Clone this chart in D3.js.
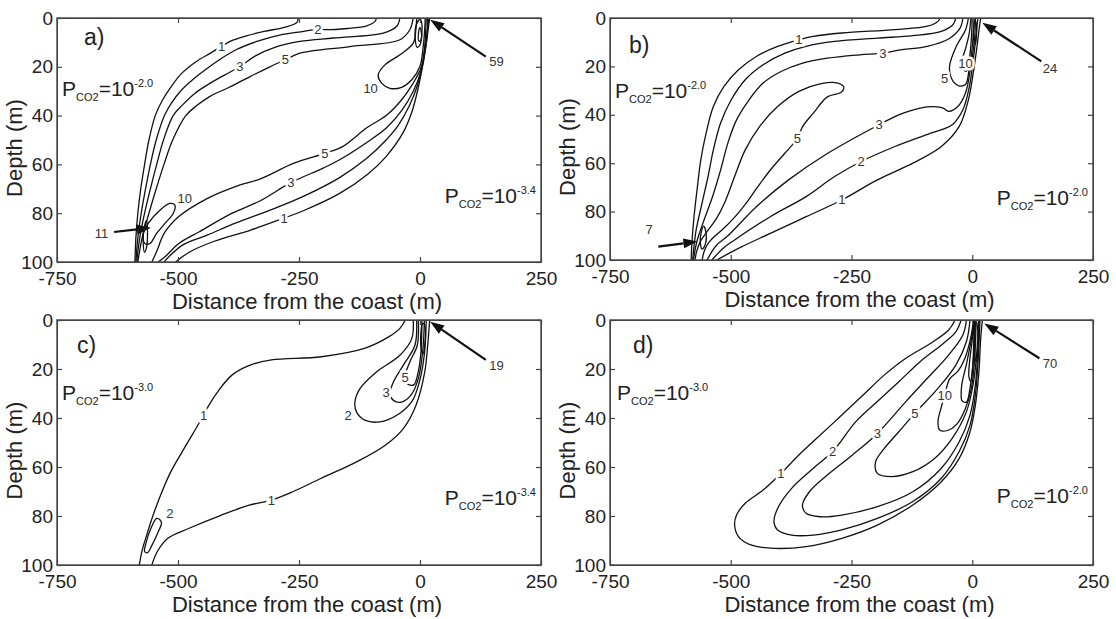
<!DOCTYPE html>
<html lang="en">
<head>
<meta charset="utf-8">
<title>PCO2 contours</title>
<script src="https://cdn.jsdelivr.net/npm/d3@7"></script>
<style>
  body { margin: 0; background: #fff; }
  svg { display: block; font-family: "Liberation Sans", Arial, sans-serif; }
</style>
</head>
<body>
<div id="chart"></div>
<script>
// axis ticks
const xTicks = [-750, -500, -250, 0, 250];
const yTicks = [0, 20, 40, 60, 80, 100];
const panelTags = ["a)", "b)", "c)", "d)"];
const pco2Left = ["-2.0", "-2.0", "-3.0", "-3.0"];
const pco2Right = ["-3.4", "-2.0", "-3.4", "-2.0"];

// contour lines, [distance (m), depth (m)]
// panel a
const a1Up = [[-252,0],[-254,1.8],[-278,3.7],[-322,5.5],[-359,7.3],[-388,9.2],[-410,11.6],[-433,14.4],[-462,17.8],[-492,22.6],[-514,28.1],[-532,33.6],[-547,40],[-560,50],[-569,60],[-577,70],[-583,80],[-587,90],[-589,100]];
const a2Up = [[-90,0],[-93,1.4],[-110,3.2],[-150,4.3],[-196,4.8],[-211,4.6],[-240,5.5],[-290,7],[-337,9.6],[-380,13],[-410,16.5],[-435,20],[-468,25],[-495,30],[-514,35],[-528,40],[-545,50],[-557,60],[-567,70],[-576,80],[-583,90],[-587,100]];
const a3Up = [[-41.5,0],[-48,3.4],[-76,6.2],[-179,8.2],[-248,9.6],[-300,12],[-340,15.5],[-372,19.9],[-405,23.5],[-440,27.5],[-466,31],[-490,35.5],[-510,40],[-530,50],[-544,60],[-557,70],[-569,80],[-579,90],[-585,100]];
const a5Up = [[-14,0],[-21,4.8],[-41.5,8.9],[-145,11.7],[-248,14.4],[-278,17.1],[-310,20],[-351,24],[-395,28.5],[-433,32],[-462,36],[-484,40],[-511,50],[-529,60],[-545,70],[-560,80],[-574,90],[-583,100]];
const a5Lo = [[-554,100],[-543,95.2],[-529,88.4],[-499,81.5],[-440,74],[-380,69],[-331,66],[-260,59.5],[-196.5,55.5],[-160,52.7],[-110,45],[-70,40],[-40,34],[-15,27],[3,20],[10,11],[12,4],[13,0]];
const a3Lo = [[-541,100],[-525,97.5],[-499,92.5],[-455,87.5],[-388,80],[-331,75],[-267,67.5],[-200,61.5],[-167,58.2],[-110,51],[-69,45],[-38,38],[-14,30],[2,22],[11,13],[15,6],[16,0]];
const a2Lo = [[-529,100],[-512,96.5],[-490,93],[-440,89],[-380,84],[-300,78],[-240,73],[-167,65.5],[-110,57.5],[-70,50],[-45,44],[-22,36],[-6,28],[5,19],[12,10],[18,0]];
const a1Lo = [[-505,100],[-477,96],[-425,91.5],[-351,87],[-281,82],[-241,79],[-167,72],[-108,64],[-71,57],[-35,47],[-16,38],[-3,28],[7,18],[14,9],[20,0]];
const a10Coast = [[-7,0],[-8.5,4.8],[-14,10.3],[-41.5,15.1],[-72.5,19.2],[-86.4,23.3],[-79.4,26.7],[-62.2,28.8],[-38,28.4],[-17.4,25.4],[-0.2,19.9],[6.6,11.7],[10.1,3.4],[10.7,0]];
const a10Loop = [[-568.4,92.4],[-571.9,89],[-561.6,84.2],[-537.4,78.8],[-516.7,76],[-506.4,76.7],[-509.9,80.1],[-527,84.2],[-544.2,88.3],[-558,92.4]];
const a11Loop = [[-565,83],[-570,86],[-572,91],[-569,96],[-565,94],[-563,88]];
const aPeak1 = [[0,0.5],[-8,3],[-10,8],[-6,12],[0,11],[4,6],[3,1.5]];
const aPeak2 = [[0,4],[-3,6],[-2,9.5],[2,9],[2,5]];
const aLabels = [[-410,11.6,"1"],[-211,4.6,"2"],[-372,19.9,"3"],[-278,17.1,"5"],[-102,28.8,"10"],[-196.5,55.5,"5"],[-267,67.5,"3"],[-281,82,"1"],[-486,74,"10"]];
const aArrows = [{text:"59", at:[158,17.8], from:[136,15.8], to:[21,0.7]}, {text:"11", at:[-658,88.4], from:[-632,87.7], to:[-556,86]}];

// panel b
const b1Up = [[-67,0],[-71,1.4],[-93,3.4],[-160,4.8],[-270,6.2],[-329,7.6],[-359,9],[-403,11.7],[-447,15.9],[-484,21.4],[-514,28.3],[-536,36.6],[-551,47.6],[-562,58.6],[-569,69.7],[-576,82],[-580,91.7],[-582,100]];
const b2Up = [[-34,0],[-40,2.8],[-64,5.5],[-123,7.3],[-196,8.3],[-285,9.7],[-344,11.7],[-388,14.5],[-433,19.3],[-470,25.5],[-499,33.8],[-521,43.4],[-536,54.5],[-547,65.5],[-560,77],[-572,88],[-579,100]];
const b3Up = [[-19.4,0],[-25,4.1],[-49,8.7],[-93,11.7],[-145,13.1],[-185,14.5],[-233,15.2],[-300,16.6],[-351,18.6],[-396,22.1],[-433,26.9],[-462,33.8],[-488,42.1],[-506,51.7],[-521,62.8],[-538,74],[-558,85],[-571,93],[-577,100]];
const b5Tongue = [[-574,100],[-570,96],[-562,92],[-548,88],[-530,83],[-512,76],[-492,65.5],[-470,54.5],[-440,44.8],[-403,36.6],[-359,30.3],[-315,27.2],[-278,26.9],[-266,28.6],[-272,30.8],[-300,32.6],[-329,39.3],[-351,44.8],[-362,49.7],[-388,55.9],[-418,62.8],[-445,70],[-470,77],[-495,83],[-515,87],[-535,90.5],[-548,93.5],[-556,97],[-559,100]];
const b3Lo = [[-549,100],[-530,94],[-506,90],[-447,78],[-381,67],[-300,56],[-193,44.1],[-152,40],[-108,37.2],[-78,36.6],[-60,37.2],[-49,38.6],[-30,36.6],[-14,31],[-3,20],[5,8],[6.5,0]];
const b2Lo = [[-539,100],[-515,95],[-492,91.7],[-418,82.1],[-344,73.8],[-285,65.5],[-230,59.3],[-160,53.1],[-86,47.6],[-41.5,44.1],[-19.4,37.9],[-6,28.3],[3,15.9],[11.6,0]];
const b1Lo = [[-529,100],[-477,94.5],[-418,89],[-344,82.1],[-270,75.2],[-196.5,66.9],[-123,60],[-64,53.1],[-27,44.8],[-8,33.8],[2,22.8],[9,13.1],[15,3.4],[17.5,0]];
const b5Coast = [[-8,0],[-14,5],[-33,11.7],[-47,20],[-43,25],[-28,28],[-14,27.5],[-7,22],[0,12],[4,0]];
const b10Coast = [[-3,0],[-6,6],[-13,12],[-20,17],[-19,21],[-12,22],[-6,17],[-2,9],[0,0]];
const b7Loop = [[-556,86],[-561,88.5],[-563,93],[-559,95.5],[-552,93],[-551,89]];
const bPeak = [[6,1],[3,4],[3,9],[6,11],[9,6],[8,2]];
const bLabels = [[-359,9,"1"],[-185,14.5,"3"],[-362,49.7,"5"],[-193,44.1,"3"],[-230,59.3,"2"],[-270,75.2,"1"],[-57,24.8,"5"],[-14,18.6,"10"]];
const bArrows = [{text:"24", at:[161,20.7], from:[143,17.9], to:[21,2]}, {text:"7", at:[-669,87.6], from:[-650,94.5], to:[-569,92.4]}];

// panel c
const c1Up = [[-30,0],[-41.5,3.4],[-64,6.8],[-115,11.6],[-204,15],[-307,16.3],[-351,18.4],[-388,22.4],[-418,29.3],[-440,36.1],[-447,38.8],[-468,46],[-492,54],[-515,62],[-535,71],[-552,80],[-565,88],[-574,94],[-580,100]];
const c1Lo = [[-554,100],[-543,94.6],[-521,89.1],[-477,85],[-410,79.6],[-351,75.5],[-307,73.5],[-263,70.1],[-204,64.6],[-130,57.8],[-71,51],[-34,44.2],[-8,34.7],[10,21],[16,10],[20,0]];
const c2Loop = [[-537,81.6],[-544,81],[-557,85.5],[-566,91],[-569,94.5],[-563,95],[-554,92],[-541,86.5],[-534,83]];
const c2Coast = [[-14,0],[-17,7.6],[-41.5,14.4],[-90,21.2],[-124,28],[-134.5,33.5],[-131,37.6],[-114,40.9],[-83,41.6],[-48,38.9],[-16,33],[-1,25],[9,14],[13,0]];
const c3Coast = [[-7,0],[-10.5,10.3],[-34.7,18.5],[-55,25.3],[-62,30.1],[-55,32.8],[-38,33.5],[-18,30.5],[-3,23.5],[6,12],[9,0]];
const c5Coast = [[-3.5,0],[-5.6,10.3],[-21,17.1],[-31,23.3],[-26.4,26],[-13,26.5],[-4,21.5],[2,13],[4,0]];
const cPeak = [[5,1.5],[2,5],[2,11],[6,14],[10,10],[11,4],[8,1.5]];
const cLabels = [[-447,38.8,"1"],[-307,73.5,"1"],[-517,79,"2"],[-148.5,38.8,"2"],[-70,29.6,"3"],[-31,23.5,"5"]];
const cArrows = [{text:"19", at:[158,18.4], from:[136,16.3], to:[21,0.7]}];

// panel d
const d1Loop = [[-35.6,0],[-48.9,4.1],[-85.8,9.5],[-137.5,15.6],[-181.7,22.4],[-226,30.6],[-270,38.8],[-322,48.3],[-359,55.1],[-396,62.6],[-433,69.4],[-470,74.8],[-488,79.6],[-492,83.7],[-484,88.4],[-458.5,91.8],[-410.5,93.2],[-344,92.5],[-270,89.1],[-196.5,83.7],[-123,75.5],[-64,66],[-27,56.5],[-4.6,45.6],[6.5,34.7],[13.8,21.1],[17.5,7.5],[21,0]];
const d2Loop = [[-23,0],[-34,4.8],[-64,10.2],[-108,17],[-152,25.2],[-196.5,33.3],[-241,41.5],[-289,53.7],[-329,60.5],[-374,68.7],[-403,76.9],[-410.5,82.3],[-403,85.7],[-374,87.8],[-329,87.8],[-270,85.7],[-196.5,81],[-123,74.1],[-64,64.6],[-27,53.7],[-4.6,42.9],[6.5,30.6],[12.4,15.6],[16,0]];
const d3Loop = [[-12,0],[-19.4,6.1],[-49,14.3],[-93,23.8],[-137.5,33.3],[-196.5,46.3],[-248,55.1],[-300,63.3],[-337,70.1],[-351.5,75.5],[-344,78.9],[-315,80.3],[-270,79.6],[-196.5,76.2],[-123,70.1],[-64,60.5],[-27,49.7],[-4.6,38.8],[6.5,26.5],[11.6,12.9],[14.6,0]];
const d5Loop = [[-4.6,0],[-12,8.8],[-34,18.4],[-71,27.9],[-119,38.1],[-152,45.6],[-182,52.4],[-200,57.8],[-196.5,62.6],[-167,63.9],[-123,61.9],[-78,56.5],[-41.5,48.3],[-12,37.4],[2.8,25.2],[10,11.6],[13,0]];
const d10Loop = [[2.8,0],[-4,8],[-16,16],[-30,21],[-46.7,24],[-57,30.7],[-64,35.5],[-71,41.6],[-67,45],[-50,45],[-32,42.5],[-15,36.5],[-2,28],[5,16],[8,0]];
const dLobe1 = [[5,0],[-2,8],[-12,18],[-22,27],[-21,33],[-12,33.5],[-4,27],[2,17],[5,8],[6,0]];
const dLobe2 = [[3,0],[0,8],[-5,16],[-7,23],[-3,25],[1,19],[3,10],[4.5,0]];
const dPeak = [[8,1],[5,6],[5,14],[9,17],[12,11],[11,3]];
const dLabels = [[-396,62.6,"1"],[-289,53.7,"2"],[-196.5,46.3,"3"],[-119,38.1,"5"],[-57,30.7,"10"]];
const dArrows = [{text:"70", at:[161,17.7], from:[139,15.6], to:[25,1.4]}];

var svg = d3.select("#chart").append("svg")
  .attr("width", 1116)
  .attr("height", 619);

var panels = [
  {id: "a", left: 57, right: 541, top: 18, bottom: 262, tag: [27, 27], pL: [5, 78], pR: [-5, 185],
   lines: [a1Up, a2Up, a3Up, a5Up, a5Lo, a3Lo, a2Lo, a1Lo, a10Coast],
   loops: [a10Loop, a11Loop, aPeak1, aPeak2], labels: aLabels, arrows: aArrows},
  {id: "b", left: 610, right: 1093, top: 18, bottom: 260, tag: [19, 35], pL: [5, 80], pR: [-5, 187],
   lines: [b1Up, b2Up, b3Up, b5Tongue, b3Lo, b2Lo, b1Lo, b5Coast, b10Coast],
   loops: [b7Loop, bPeak], labels: bLabels, arrows: bArrows},
  {id: "c", left: 57, right: 541, top: 320, bottom: 565, tag: [20, 33], pL: [5, 80], pR: [-5, 185],
   lines: [c1Up, c1Lo, c2Coast, c3Coast, c5Coast],
   loops: [c2Loop, cPeak], labels: cLabels, arrows: cArrows},
  {id: "d", left: 610, right: 1093, top: 320, bottom: 565, tag: [23, 33], pL: [7, 80], pR: [-5, 183],
   lines: [d1Loop, d2Loop, d3Loop, d5Loop, d10Loop, dLobe1, dLobe2],
   loops: [dPeak], labels: dLabels, arrows: dArrows}
];

function pco2(g, px, py, exp, anchor) {
  var t = g.append("text")
    .attr("x", px)
    .attr("y", py)
    .attr("font-size", 21)
    .attr("fill", "#222")
    .attr("text-anchor", anchor);
  t.append("tspan").text("P");
  t.append("tspan").attr("font-size", 11).attr("dy", 5).text("CO2");
  t.append("tspan").attr("dy", -5).text("=10");
  t.append("tspan").attr("font-size", 11).attr("dy", -9).text(exp);
}

panels.forEach(function(p, i) {
  var x = d3.scaleLinear().domain([-750, 250]).range([p.left, p.right]);
  var y = d3.scaleLinear().domain([0, 100]).range([p.top, p.bottom]);
  var g = svg.append("g");

  svg.append("clipPath").attr("id", "clip-" + p.id)
    .append("rect")
    .attr("x", p.left)
    .attr("y", p.top)
    .attr("width", p.right - p.left)
    .attr("height", p.bottom - p.top);

  var open = d3.line().x(d => x(d[0])).y(d => y(d[1])).curve(d3.curveCatmullRom.alpha(0.5));
  var closed = d3.line().x(d => x(d[0])).y(d => y(d[1])).curve(d3.curveCatmullRomClosed.alpha(0.5));

  var lg = g.append("g").attr("clip-path", "url(#clip-" + p.id + ")");
  lg.selectAll("path.open")
    .data(p.lines)
    .join("path")
    .attr("class", "open")
    .attr("d", open)
    .attr("fill", "none")
    .attr("stroke", "#111")
    .attr("stroke-width", 1.3);
  lg.selectAll("path.closed")
    .data(p.loops)
    .join("path")
    .attr("class", "closed")
    .attr("d", closed)
    .attr("fill", "none")
    .attr("stroke", "#111")
    .attr("stroke-width", 1.3);

  // contour labels, white halo breaks the line
  g.selectAll("text.clabel")
    .data(p.labels)
    .join("text")
    .attr("class", "clabel")
    .attr("x", d => x(d[0]))
    .attr("y", d => y(d[1]))
    .attr("text-anchor", "middle")
    .attr("dominant-baseline", "central")
    .attr("font-size", 13)
    .attr("fill", "#333")
    .attr("stroke", "#fff")
    .attr("stroke-width", 5)
    .attr("paint-order", "stroke")
    .text(d => d[2]);

  // frame
  g.append("rect")
    .attr("x", p.left)
    .attr("y", p.top)
    .attr("width", p.right - p.left)
    .attr("height", p.bottom - p.top)
    .attr("fill", "none")
    .attr("stroke", "#444")
    .attr("stroke-width", 1.4);

  var plain = d => String(d);
  var bottomAxis = g.append("g")
    .attr("transform", "translate(0," + p.bottom + ")")
    .call(d3.axisBottom(x).tickValues(xTicks).tickSize(-5).tickSizeOuter(0).tickPadding(10).tickFormat(plain));
  var leftAxis = g.append("g")
    .attr("transform", "translate(" + p.left + ",0)")
    .call(d3.axisLeft(y).tickValues(yTicks).tickSize(-5).tickSizeOuter(0).tickPadding(4).tickFormat(plain));
  g.append("g")
    .attr("transform", "translate(0," + p.top + ")")
    .call(d3.axisTop(x).tickValues(xTicks).tickSize(-5).tickSizeOuter(0).tickFormat(""));
  g.append("g")
    .attr("transform", "translate(" + p.right + ",0)")
    .call(d3.axisRight(y).tickValues(yTicks).tickSize(-5).tickSizeOuter(0).tickFormat(""));

  g.selectAll(".domain").attr("stroke", "#444");
  g.selectAll(".tick line").attr("stroke", "#444").attr("stroke-width", 1.2);
  [bottomAxis, leftAxis].forEach(function(ax) {
    ax.attr("font-size", 19)
      .attr("font-family", "'Liberation Sans', Arial, sans-serif");
    ax.selectAll("text").attr("fill", "#222");
  });

  // arrows
  p.arrows.forEach(function(a) {
    var x1 = x(a.from[0]), y1 = y(a.from[1]);
    var x2 = x(a.to[0]), y2 = y(a.to[1]);
    var ang = Math.atan2(y2 - y1, x2 - x1);
    var len = 14, half = 5;
    var bx = x2 - len * Math.cos(ang), by = y2 - len * Math.sin(ang);
    g.append("line")
      .attr("x1", x1).attr("y1", y1)
      .attr("x2", bx).attr("y2", by)
      .attr("stroke", "#111")
      .attr("stroke-width", 2.2);
    g.append("polygon")
      .attr("points", [
        [x2, y2],
        [bx + half * Math.sin(ang), by - half * Math.cos(ang)],
        [bx - half * Math.sin(ang), by + half * Math.cos(ang)]
      ].map(q => q.join(",")).join(" "))
      .attr("fill", "#111");
    g.append("text")
      .attr("x", x(a.at[0]))
      .attr("y", y(a.at[1]))
      .attr("text-anchor", "middle")
      .attr("dominant-baseline", "central")
      .attr("font-size", 13)
      .attr("fill", "#333")
      .text(a.text);
  });

  // texts
  g.append("text")
    .attr("x", p.left + p.tag[0])
    .attr("y", p.top + p.tag[1])
    .attr("font-size", 23)
    .attr("fill", "#222")
    .text(panelTags[i]);

  pco2(g, p.left + p.pL[0], p.top + p.pL[1], pco2Left[i], "start");
  pco2(g, p.right + p.pR[0], p.top + p.pR[1], pco2Right[i], "end");

  g.append("text")
    .attr("x", (p.left + p.right) / 2 + 8)
    .attr("y", p.bottom + 47)
    .attr("text-anchor", "middle")
    .attr("font-size", 22)
    .attr("fill", "#222")
    .text("Distance from the coast (m)");

  g.append("text")
    .attr("transform", "translate(" + (p.left - 43) + "," + ((p.top + p.bottom) / 2 + 8) + ") rotate(-90)")
    .attr("text-anchor", "middle")
    .attr("dominant-baseline", "central")
    .attr("font-size", 22)
    .attr("fill", "#222")
    .text("Depth (m)");
});
</script>
</body>
</html>
